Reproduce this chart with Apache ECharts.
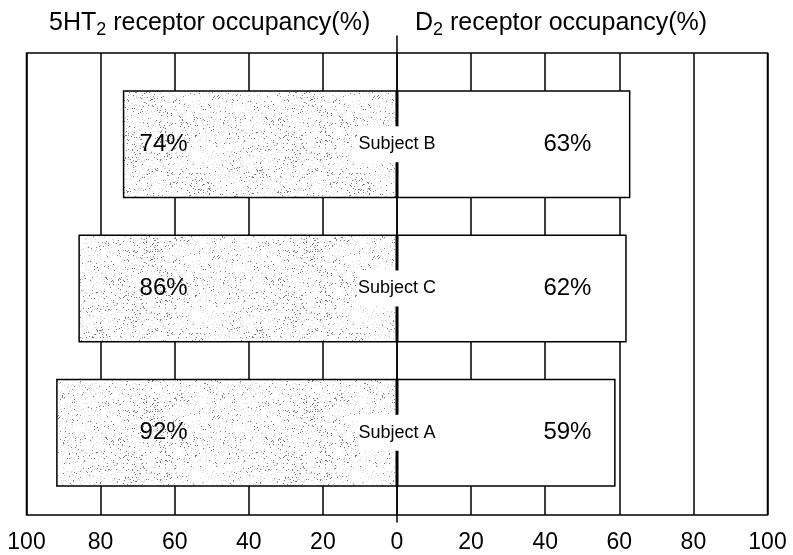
<!DOCTYPE html>
<html>
<head>
<meta charset="utf-8">
<script src="https://cdn.jsdelivr.net/npm/echarts@6/dist/echarts.min.js"></script>
<style>html,body{margin:0;padding:0;background:#fff}#c{width:793px;height:555px}</style>
</head>
<body>
<div id="c"></div>
<script>
// ---- data ----
const categories = ['Subject A', 'Subject C', 'Subject B'];   // bottom to top
const ht2Occupancy = [92, 86, 74];   // 5HT2 receptor occupancy (%), drawn to the left
const d2Occupancy = [59, 62, 63];    // D2 receptor occupancy (%), drawn to the right
const xTickValues = [-100, -80, -60, -40, -20, 0, 20, 40, 60, 80, 100];
const xTickLabels = ['100', '80', '60', '40', '20', '0', '20', '40', '60', '80', '100'];

// ---- layout constants ----
const FONT = 'Liberation Sans, Arial, Helvetica, sans-serif';
const LEFT_LABEL_X = -63;
const RIGHT_LABEL_X = 46;
const G = { left: 26.5, width: 741 };

function frac(x) { return x - Math.floor(x); }
function makeStipple() {
  const n = 160;
  const c = document.createElement('canvas');
  c.width = n; c.height = n;
  const ctx = c.getContext('2d');
  ctx.fillStyle = '#ffffff';
  ctx.fillRect(0, 0, n, n);
  for (let i = 0; i < n; i++) {
    for (let j = 0; j < n; j++) {
      const h = frac(Math.sin(i * 12.9898 + j * 78.233) * 43758.5453);
      const cl = frac(Math.sin(Math.floor(i / 13) * 4.1 + Math.floor(j / 9) * 7.7) * 9123.77);
      const p = 0.01 + cl * cl * 0.09;
      if (h < p) { ctx.fillStyle = '#808080'; ctx.fillRect(i, j, 1, 1); }
      else if (h < p + 0.08) { ctx.fillStyle = '#dadada'; ctx.fillRect(i, j, 1, 1); }
    }
  }
  return c;
}

const chart = echarts.init(document.getElementById('c'), null, { renderer: 'canvas' });

const titleRich = {
  a: { fontFamily: FONT, fontSize: 25, fontWeight: 'normal', color: '#000', lineHeight: 31 },
  s: { fontFamily: FONT, fontSize: 18, fontWeight: 'normal', color: '#000', lineHeight: 18, padding: [14, 0, 0, 0] }
};
const pctLabel = {
  show: true, position: 'inside', fontFamily: FONT, fontSize: 24, color: '#000',
  fontWeight: 'normal', textBorderWidth: 0, opacity: 1,
  formatter: p => p.value[2] + '%'
};

const option = {
  animation: false,
  backgroundColor: '#fff',
  title: [
    { text: '{a|5HT}{s|2}{a| receptor occupancy(%)}', left: 49, top: 8, padding: 0,
      textStyle: { fontWeight: 'normal', rich: titleRich } },
    { text: '{a|D}{s|2}{a| receptor occupancy(%)}', left: 415, top: 8, padding: 0,
      textStyle: { fontWeight: 'normal', rich: titleRich } }
  ],
  grid: [
    { left: G.left, width: G.width, top: 53, height: 462, show: true, borderColor: '#000', borderWidth: 1.5, backgroundColor: 'transparent' },
    { left: G.left, width: G.width, top: 72, height: 433 },
    { left: G.left, width: G.width, top: 36, height: 486 }
  ],
  xAxis: [
    {
      gridIndex: 0, type: 'value', min: -100, max: 100, interval: 20,
      axisLine: { show: false }, axisTick: { show: false },
      splitLine: { show: true, lineStyle: { color: '#000', width: 1.5 } },
      axisLabel: {
        show: true, fontFamily: FONT, fontSize: 23, color: '#000', margin: 16,
        formatter: function (v) { const k = xTickValues.indexOf(v); return k >= 0 ? xTickLabels[k] : ''; }
      }
    },
    { gridIndex: 1, type: 'value', min: -100, max: 100, show: false },
    { gridIndex: 2, type: 'value', min: -100, max: 100, show: false }
  ],
  yAxis: [
    { gridIndex: 0, type: 'value', show: false, splitLine: { show: false } },
    { gridIndex: 1, type: 'category', data: categories, show: false },
    {
      gridIndex: 2, type: 'value', min: 0, max: 1,
      axisLine: { show: true, onZero: true, lineStyle: { color: '#000', width: 1.5 } },
      axisTick: { show: false }, axisLabel: { show: false }, splitLine: { show: false }
    }
  ],
  series: [
    {
      name: '5HT2', type: 'bar', xAxisIndex: 1, yAxisIndex: 1,
      data: ht2Occupancy.map(v => -v),
      barWidth: 108, barGap: '-100%',
      itemStyle: { color: { image: makeStipple(), repeat: 'repeat' }, borderColor: '#000', borderWidth: 1.5 },
      z: 3
    },
    {
      name: 'D2', type: 'bar', xAxisIndex: 1, yAxisIndex: 1,
      data: d2Occupancy,
      barWidth: 108, barGap: '-100%',
      itemStyle: { color: '#fff', borderColor: '#000', borderWidth: 1.5 },
      z: 3
    },
    {
      name: 'leftLabels', type: 'scatter', xAxisIndex: 1, yAxisIndex: 1,
      symbolSize: 0, silent: true, z: 5, itemStyle: { color: '#000', opacity: 1 },
      data: ht2Occupancy.map((v, i) => [LEFT_LABEL_X, i, v]),
      label: pctLabel
    },
    {
      name: 'rightLabels', type: 'scatter', xAxisIndex: 1, yAxisIndex: 1,
      symbolSize: 0, silent: true, z: 5, itemStyle: { color: '#000', opacity: 1 },
      data: d2Occupancy.map((v, i) => [RIGHT_LABEL_X, i, v]),
      label: pctLabel
    },
    {
      name: 'subjects', type: 'scatter', xAxisIndex: 1, yAxisIndex: 1,
      symbolSize: 0, silent: true, z: 6, itemStyle: { color: '#000', opacity: 1 },
      data: categories.map((c, i) => [0, i]),
      label: { show: true, position: 'inside', fontFamily: FONT, fontSize: 18, color: '#000',
        textBorderWidth: 0, backgroundColor: '#fff', padding: [9, 1],
        formatter: p => categories[p.value[1]] }
    }
  ]
};
chart.setOption(option);
</script>
</body>
</html>
